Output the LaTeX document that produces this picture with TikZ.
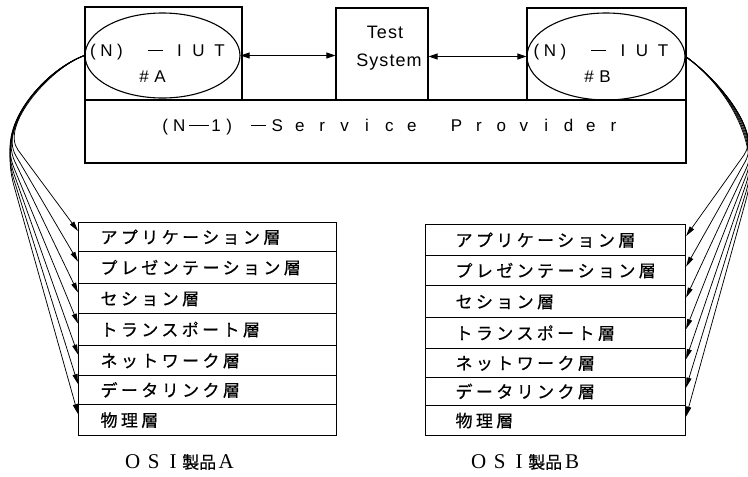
\documentclass[tikz,border=0pt]{standalone}
\usepackage{fontspec}
\setmainfont{Liberation Sans}
\newfontfamily\jpfont[LetterSpace=20,FakeBold=0.6]{Noto Sans CJK JP}
\newfontfamily\jpplain[FakeBold=0.6]{Noto Sans CJK JP}
\newfontfamily\lserif{Liberation Serif}
\usetikzlibrary{arrows.meta,shapes.geometric,calc}
\newcommand\cb[2]{\makebox[#1]{#2}}
\newcommand\dashrule[1]{\rule[0.33em]{#1}{1.2pt}}
\newcommand\ls[1]{\makebox[22.4pt]{#1}}
\newcommand\iutline{\cb{13pt}{(}\cb{14pt}{N}\cb{13pt}{)}\hspace{21pt}\dashrule{15pt}\hspace{8pt}\cb{18pt}{I}\cb{20pt}{U}\cb{22pt}{T}}
\newcommand\osicap[1]{\lserif\cb{21pt}{O}\cb{21pt}{S}\cb{18pt}{I}{\jpplain\fontsize{17}{18}\selectfont 製品}\cb{20pt}{#1}}
\tikzset{
  box/.style={draw, rectangle, line width=1.1pt, inner sep=0pt},
  ell/.style={draw, ellipse, line width=1.1pt, inner sep=0pt},
  lbl/.style={inner sep=0pt},
  iut/.style={inner sep=0pt, font=\fontsize{17}{20}\selectfont},
  layer/.style={draw, rectangle, line width=1.1pt, inner sep=0pt, anchor=north west,
     align=left, text height=13pt, text depth=0pt, font=\fontsize{17}{20}\selectfont\jpfont},
  dbl/.style={line width=0.9pt, {Triangle[length=9pt,width=6pt]}-{Triangle[length=9pt,width=6pt]}},
  fan/.style={line width=0.75pt, -{Triangle[length=10pt,width=5pt]}},
  captxt/.style={inner sep=0pt, font=\fontsize{21}{24}\selectfont},
}
\begin{document}
\begin{tikzpicture}[x=1pt,y=-1pt]
\useasboundingbox (0,0) rectangle (748,477);
% top boxes
\node[box, minimum width=157pt, minimum height=93pt] (boxa) at (163.5,53.5) {};
\node[box, minimum width=92pt, minimum height=92pt] (ts) at (382,54) {};
\node[box, minimum width=159pt, minimum height=92pt] (boxb) at (606.5,54) {};
\node[box, minimum width=601pt, minimum height=63pt] (sp) at (385.5,131.5) {};
\node[ell, minimum width=155pt, minimum height=85pt] (ea) at (162.5,55.5) {};
\node[ell, minimum width=158pt, minimum height=87pt] (eb) at (606,56.5) {};
% labels
\node[iut] (ea1) at (158.5,52) {\iutline};
\node[iut] (ea2) at (152,77) {\cb{16pt}{\#}\cb{16pt}{A}};
\node[iut] (eb1) at (602,52) {\iutline};
\node[iut] (eb2) at (597,77) {\cb{16pt}{\#}\cb{16pt}{B}};
\node[lbl, font=\fontsize{18}{20}\selectfont\addfontfeature{LetterSpace=6}] (ts1) at (385,32) {Test};
\node[lbl, font=\fontsize{18}{20}\selectfont\addfontfeature{LetterSpace=6}] (ts2) at (389,62) {System};
\node[lbl, anchor=west, font=\fontsize{17}{20}\selectfont] (spl) at (159,127)
  {\cb{12pt}{(}\cb{16pt}{N}\hspace{2pt}\dashrule{20pt}\cb{14pt}{1}\cb{12pt}{)}\hspace{16pt}\dashrule{15pt}%
   \ls S\ls e\ls r\ls v\ls i\ls c\ls e\ls{}\ls P\ls r\ls o\ls v\ls i\ls d\ls e\ls r};
% double arrows
\draw[dbl] (ea.east) -- (ea.east -| ts.west);
\draw[dbl] (ts.east |- eb.west) -- (eb.west);
% layer stacks A
\node[layer, text width=258pt, minimum height=29pt] (a1) at (78,222) {\hspace*{22pt}アプリケーション層};
\node[layer, text width=258pt, minimum height=32pt] (a2) at (78,251) {\hspace*{22pt}プレゼンテーション層};
\node[layer, text width=258pt, minimum height=30pt] (a3) at (78,283) {\hspace*{22pt}セション層};
\node[layer, text width=258pt, minimum height=32pt] (a4) at (78,313) {\hspace*{22pt}トランスポート層};
\node[layer, text width=258pt, minimum height=30pt] (a5) at (78,345) {\hspace*{22pt}ネットワーク層};
\node[layer, text width=258pt, minimum height=29pt] (a6) at (78,375) {\hspace*{22pt}データリンク層};
\node[layer, text width=258pt, minimum height=31pt] (a7) at (78,404) {\hspace*{22pt}物理層};
% layer stacks B
\node[layer, text width=260pt, minimum height=31pt] (b1) at (425,224) {\hspace*{30pt}アプリケーション層};
\node[layer, text width=260pt, minimum height=30pt] (b2) at (425,255) {\hspace*{30pt}プレゼンテーション層};
\node[layer, text width=260pt, minimum height=32pt] (b3) at (425,285) {\hspace*{30pt}セション層};
\node[layer, text width=260pt, minimum height=31pt] (b4) at (425,317) {\hspace*{30pt}トランスポート層};
\node[layer, text width=260pt, minimum height=29pt] (b5) at (425,348) {\hspace*{30pt}ネットワーク層};
\node[layer, text width=260pt, minimum height=28pt] (b6) at (425,377) {\hspace*{30pt}データリンク層};
\node[layer, text width=260pt, minimum height=30pt] (b7) at (425,405) {\hspace*{30pt}物理層};
% fan arrows left
\foreach \n/\px/\py in {a1/18/150, a2/16/156, a3/15/162, a4/14/168, a5/14/174, a6/14/180, a7/14/186} {
  \coordinate (t\n) at ([yshift=6pt]\n.west);
  \coordinate (p\n) at (\px,\py);
  \draw[fan] (ea.west) .. controls (50,68) and ($(p\n)!-0.3!(t\n)$) .. (p\n) -- (t\n);
}
% fan arrows right
\foreach \n/\px/\py in {b1/744/155, b2/745/162, b3/746/169, b4/746/176, b5/746/184, b6/746/192, b7/746/200} {
  \coordinate (t\n) at ([yshift=4pt]\n.east);
  \coordinate (p\n) at (\px,\py);
  \draw[fan] (eb.east) .. controls (716,78) and ($(p\n)!-0.3!(t\n)$) .. (p\n) -- (t\n);
}
% captions
\node[captxt, anchor=west] (capa) at (122,462) {\osicap{A}};
\node[captxt, anchor=west] (capb) at (468,462) {\osicap{B}};
\end{tikzpicture}
\end{document}
